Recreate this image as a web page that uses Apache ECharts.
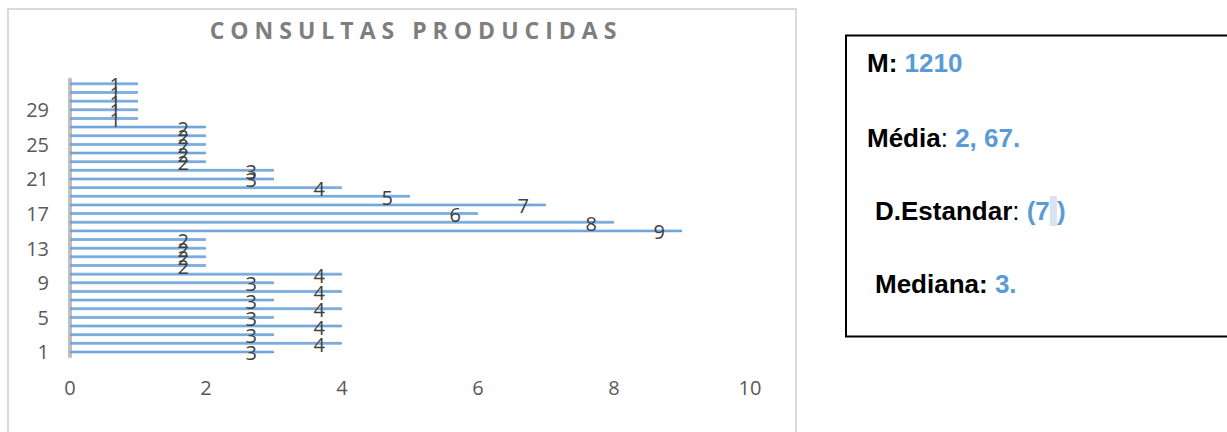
<!DOCTYPE html>
<html>
<head>
<meta charset="utf-8">
<script src="https://cdn.jsdelivr.net/npm/echarts@6/dist/echarts.min.js"></script>
<style>
  html, body { margin: 0; padding: 0; background: #fff; }
  #c { width: 1227px; height: 432px; }
  #c svg text[fill="#7e7e7e"] { letter-spacing: 6px; }
</style>
</head>
<body>
<div id="c"></div>
<script>
const titleText = 'CONSULTAS PRODUCIDAS';
const categories = ['1','2','3','4','5','6','7','8','9','10','11','12','13','14','15','16',
                    '17','18','19','20','21','22','23','24','25','26','27','28','29','30','31','32'];
const values = [3,4,3,4,3,4,3,4,3,4,2,2,2,2,9,8,6,7,5,4,3,3,2,2,2,2,2,1,1,1,1,1];
const xMin = 0, xMax = 10, xStep = 2;
const statLabels = ['M: ', 'Média', 'D.Estandar', 'Mediana: '];
const statValues = ['1210', ' 2, 67.', '(7', '3.'];

const blue = '#5b9bd5';
const chart = echarts.init(document.getElementById('c'), null, { renderer: 'svg' });
const big = { fontFamily: 'Liberation Sans, Arial', fontSize: 26, fontWeight: 'bold', lineHeight: 30 };

chart.setOption({
  animation: false,
  title: {
    text: titleText,
    left: 411, top: 13,
    textAlign: 'center',
    textStyle: { fontFamily: 'Open Sans', fontSize: 23, fontWeight: 'bold', color: '#7e7e7e' }
  },
  grid: { left: 70, right: 477, top: 79.5, bottom: 75.7, containLabel: false },
  xAxis: {
    type: 'value', min: xMin, max: xMax, interval: xStep,
    axisLine: { show: false }, axisTick: { show: false },
    splitLine: { show: false },
    axisLabel: { color: '#595959', fontSize: 20, fontFamily: 'Open Sans', margin: 21 }
  },
  yAxis: {
    type: 'category', data: categories,
    axisLine: { show: true, lineStyle: { color: '#bfbfbf', width: 4 } },
    axisTick: { show: false },
    axisLabel: { interval: 3, color: '#595959', fontSize: 20, fontFamily: 'Open Sans', margin: 21 }
  },
  series: [{
    type: 'bar', data: values, barWidth: 3,
    itemStyle: { color: '#7fb0e0', borderColor: '#4a8ccc', borderWidth: 1, borderType: [1, 1] },
    label: {
      show: true, position: 'insideRight', offset: [-12, 1],
      color: '#404040', fontSize: 20, fontFamily: 'Open Sans'
    }
  }],
  graphic: [
    { type: 'rect', shape: { x: 8, y: 9, width: 788, height: 440 },
      style: { fill: 'none', stroke: '#d9d9d9', lineWidth: 2 }, silent: true },
    { type: 'rect', shape: { x: 846, y: 35.5, width: 400, height: 301 },
      style: { fill: 'none', stroke: '#000', lineWidth: 2 }, silent: true },
    { type: 'text', x: 867, y: 62.5, style: {
      text: '{k|' + statLabels[0] + '}{v|' + statValues[0] + '}',
      textVerticalAlign: 'middle',
      rich: { k: Object.assign({ fill: '#000' }, big), v: Object.assign({ fill: blue }, big) } } },
    { type: 'text', x: 867, y: 138, style: {
      text: '{k|' + statLabels[1] + '}{n|:}{v|' + statValues[1] + '}',
      textVerticalAlign: 'middle',
      rich: { k: Object.assign({ fill: '#000' }, big), n: Object.assign({}, big, { fill: '#000', fontWeight: 'normal' }),
              v: Object.assign({ fill: blue }, big) } } },
    { type: 'text', x: 875, y: 211, style: {
      text: '{k|' + statLabels[2] + '}{n|: }{v|' + statValues[2] + '}{h| }{v|)}',
      textVerticalAlign: 'middle',
      rich: { k: Object.assign({ fill: '#000' }, big), n: Object.assign({}, big, { fill: '#000', fontWeight: 'normal' }),
              v: Object.assign({ fill: blue }, big),
              h: Object.assign({ fill: blue, backgroundColor: '#dae3f3', height: 30 }, big) } } },
    { type: 'text', x: 875, y: 284, style: {
      text: '{k|' + statLabels[3] + '}{v|' + statValues[3] + '}',
      textVerticalAlign: 'middle',
      rich: { k: Object.assign({ fill: '#000' }, big), v: Object.assign({ fill: blue }, big) } } }
  ]
});
</script>
</body>
</html>
